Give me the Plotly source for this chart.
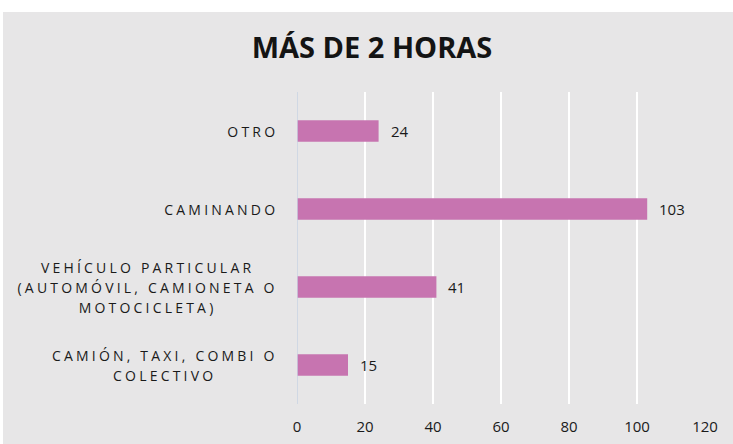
import plotly.graph_objects as go

# Category labels (bottom to top) and counts
categorias = [
    "CAMIÓN, TAXI, COMBI O<br>COLECTIVO",
    "VEHÍCULO PARTICULAR<br>(AUTOMÓVIL, CAMIONETA O<br>MOTOCICLETA)",
    "CAMINANDO",
    "OTRO",
]
claves = ["camion", "vehiculo", "caminando", "otro"]
valores = [15, 41, 103, 24]
ticks_x = [0, 20, 40, 60, 80, 100, 120]

W, H = 733, 444
ML, MR, MT, MB = 297, 28, 92, 40
pw = W - ML - MR
ph = H - MT - MB
GRIS = "#e7e6e7"
ROSA = "#c774b0"
TEXTO = "#1a1a1a"
FUENTE = "Open Sans"

fig = go.Figure()
fig.add_trace(go.Bar(
    y=claves, x=valores, orientation="h",
    marker=dict(color=ROSA, line=dict(width=0)),
    hoverinfo="skip",
))

# value labels to the right of each bar
for clave, v in zip(claves, valores):
    fig.add_annotation(
        xref="x", yref="y", x=v, y=clave, text=str(v), showarrow=False,
        xanchor="left", yanchor="middle", xshift=10,
        font=dict(family=FUENTE, size=15, color=TEXTO),
    )

# gray card behind everything, leaving a thin white strip on top and left
fig.add_shape(
    type="rect", xref="paper", yref="paper", layer="below",
    x0=(3 - ML) / pw, x1=(W - ML) / pw,
    y0=(MT + ph - H) / ph, y1=(MT + ph - 12) / ph,
    fillcolor=GRIS, line=dict(width=0),
)

# category labels, centred lines in a right-aligned block
for clave, etiqueta in zip(claves, categorias):
    fig.add_annotation(
        xref="paper", yref="y", x=(280 - ML) / pw, y=clave,
        text=etiqueta, showarrow=False, xanchor="right", yanchor="middle",
        align="center", font=dict(family=FUENTE, size=14, color=TEXTO),
    )

fig.update_layout(
    width=W, height=H,
    margin=dict(l=ML, r=MR, t=MT, b=MB, autoexpand=False),
    paper_bgcolor="white", plot_bgcolor=GRIS,
    bargap=0.724, showlegend=False,
    title=dict(text="<b>MÁS DE 2 HORAS</b>", x=372 / W, xanchor="center",
               y=1 - 48 / H, yanchor="middle",
               font=dict(family=FUENTE, size=29, color="#141414")),
    xaxis=dict(range=[0, 120], tickvals=ticks_x, showgrid=True,
               gridcolor="white", gridwidth=1.5, zeroline=False,
               showline=False, ticks="", ticklabelstandoff=12,
               automargin=False,
               tickfont=dict(family=FUENTE, size=15, color=TEXTO)),
    yaxis=dict(categoryorder="array", categoryarray=claves,
               showticklabels=False, showgrid=False, zeroline=False,
               showline=False, ticks="", automargin=False),
)
# light axis line at x = 0
fig.add_shape(type="line", xref="x", yref="paper", x0=0, x1=0, y0=0, y1=1,
              line=dict(color="#c9d3e3", width=1.5))

# wider letter spacing and line height for the category labels
espaciado = """
document.querySelectorAll('g.annotation text.annotation-text').forEach(function(t){
  if (/^\\d+$/.test(t.textContent)) return;
  var b0 = t.getBBox();
  t.style.letterSpacing = '3.2px';
  t.querySelectorAll('tspan.line').forEach(function(s, i){
    s.setAttribute('dy', (i * 20) + 'px');
  });
  var b1 = t.getBBox();
  var dx = (b0.x + b0.width) - (b1.x + b1.width);
  var dy = (b0.y + b0.height / 2) - (b1.y + b1.height / 2);
  t.setAttribute('transform', 'translate(' + dx + ',' + dy + ')');
});
"""
fig.write_html("out.html", post_script=espaciado)
